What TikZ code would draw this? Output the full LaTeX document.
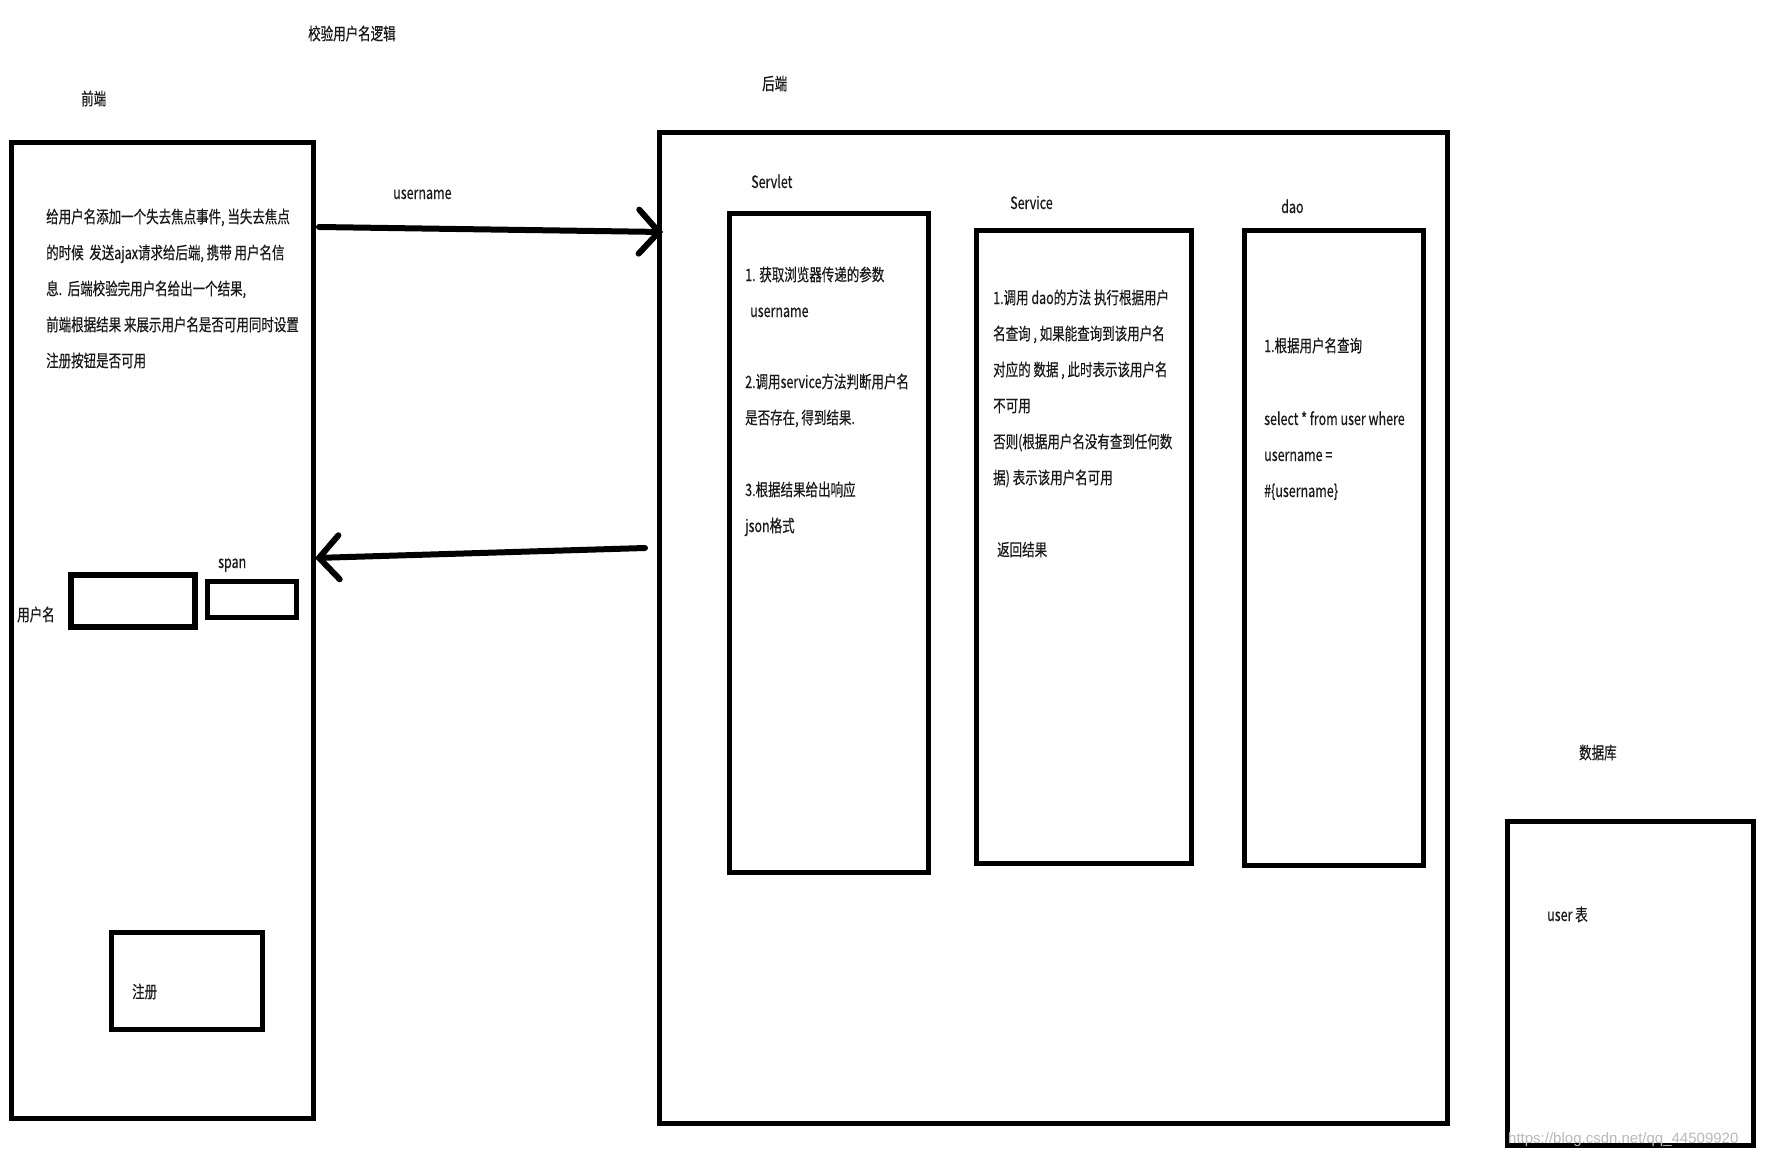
\documentclass[tikz,border=0pt]{standalone}
\usepackage{fontspec}
\usetikzlibrary{arrows.meta}
\newfontfamily\cjk[FakeStretch=0.735,FakeBold=0.4]{Noto Sans CJK SC}
\newfontfamily\wmfont{Liberation Sans}
\definecolor{txt}{RGB}{25,25,25}
\begin{document}
\begin{tikzpicture}[x=1pt,y=-1pt,
  box/.style={draw=black, line width=5pt, inner sep=0pt, outer sep=0pt, anchor=north west},
  lbl/.style={font=\cjk\fontsize{17}{20}\selectfont, text=txt, inner sep=0pt, anchor=base west},
  arr/.style={line width=6pt, line cap=round, -{Straight Barb[length=20pt,width=44pt,line cap=round]}}]
\useasboundingbox[fill=white] (0,0) rectangle (1765,1156);

% boxes
\node[box, minimum width=302pt, minimum height=976pt] (front) at (11,142) {};
\node[box, minimum width=788pt, minimum height=991pt] (back) at (659,132) {};
\node[box, minimum width=199pt, minimum height=659pt] (servlet) at (729,213) {};
\node[box, minimum width=215pt, minimum height=633pt] (service) at (976,230) {};
\node[box, minimum width=179pt, minimum height=635pt] (dao) at (1244,230) {};
\node[box, minimum width=246pt, minimum height=324pt] (db) at (1507,821) {};
\node[box, line width=6pt, minimum width=124pt, minimum height=52pt] (input) at (71,575) {};
\node[box, minimum width=89pt, minimum height=36pt] (span) at (207,581) {};
\node[box, minimum width=151pt, minimum height=97pt] (reg) at (111,932) {};

% headings
\node[lbl] (title) at (308,40) {校验用户名逻辑};
\node[lbl] (frontlbl) at (81,105) {前端};
\node[lbl] (backlbl) at (762,90) {后端};
\node[lbl] (servletlbl) at (751,188) {Servlet};
\node[lbl] (servicelbl) at (1010,209) {Service};
\node[lbl] (daolbl) at (1281,213) {dao};
\node[lbl] (dblbl) at (1579,759) {数据库};

% frontend text
\node[lbl] (f1) at (46,223) {给用户名添加一个失去焦点事件, 当失去焦点};
\node[lbl] (f2) at (46,259) {的时候~~发送ajax请求给后端, 携带 用户名信};
\node[lbl] (f3) at (46,295) {息.~~后端校验完用户名给出一个结果,};
\node[lbl] (f4) at (46,331) {前端根据结果 来展示用户名是否可用同时设置};
\node[lbl] (f5) at (46,367) {注册按钮是否可用};
\node[lbl] (spanlbl) at (218,568) {span};
\node[lbl] (userlbl) at (17,621) {用户名};
\node[lbl] (reglbl) at (132,998) {注册};

% servlet text
\node[lbl] (sv1) at (745,281) {1. 获取浏览器传递的参数};
\node[lbl] (sv2) at (750,317) {username};
\node[lbl] (sv3) at (745,388) {2.调用service方法判断用户名};
\node[lbl] (sv4) at (745,424) {是否存在, 得到结果.};
\node[lbl] (sv5) at (745,496) {3.根据结果给出响应};
\node[lbl] (sv6) at (745,532) {json格式};

% service text
\node[lbl] (se1) at (993,304) {1.调用 dao的方法 执行根据用户};
\node[lbl] (se2) at (993,340) {名查询 , 如果能查询到该用户名};
\node[lbl] (se3) at (993,376) {对应的 数据 , 此时表示该用户名};
\node[lbl] (se4) at (993,412) {不可用};
\node[lbl] (se5) at (993,448) {否则(根据用户名没有查到任何数};
\node[lbl] (se6) at (993,484) {据) 表示该用户名可用};
\node[lbl] (se7) at (997,556) {返回结果};

% dao text
\node[lbl] (d1) at (1264,352) {1.根据用户名查询};
\node[lbl] (d2) at (1264,425) {select * from user where};
\node[lbl] (d3) at (1264,461) {username =};
\node[lbl] (d4) at (1264,497) {\#\{username\}};

% db text
\node[lbl] (usertbl) at (1547,921) {user 表};

% arrows
\coordinate (a1s) at (319,227);
\coordinate (a1e) at (663,232);
\draw[arr] (a1s) -- (a1e);
\node[lbl] (arrlbl) at (393,199) {username};
\coordinate (a2s) at (645,548);
\coordinate (a2e) at (315,558);
\draw[arr] (a2s) -- (a2e);

% watermark
\node[inner sep=0pt, anchor=base west, font=\wmfont\fontsize{15}{18}\selectfont, text=gray!55] (wm) at (1508,1143) {https://blog.csdn.net/qq\_44509920};
\end{tikzpicture}
\end{document}
